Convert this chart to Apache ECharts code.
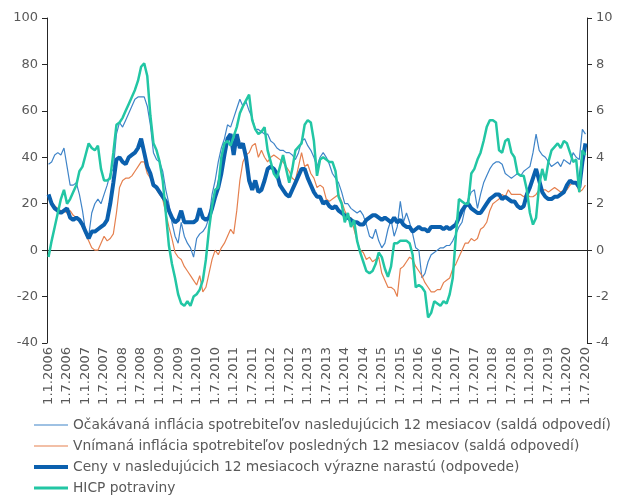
<!DOCTYPE html>
<html>
<head>
<meta charset="utf-8">
<script src="https://cdn.jsdelivr.net/npm/echarts@6.0.0/dist/echarts.min.js"></script>
<style>
html, body { margin: 0; padding: 0; background: #fff; }
#chart { width: 621px; height: 496px; }
</style>
</head>
<body>
<div id="chart"></div>
<script>
// mesiace 1.1.2006 - 1.7.2020
var months = [];
for (var y = 2006; y <= 2020; y++) {
	for (var m = 1; m <= 12; m++) {
		if (y === 2020 && m > 7) break;
		months.push('1.' + m + '.' + y);
	}
}

// Očakávaná inflácia (saldá)
var ocakavana = [
	37, 38, 41, 42, 41, 44, 36, 28, 28, 29, 24, 17,
	8, 6, 16, 20, 22, 20, 24, 28, 33, 35, 50, 55,
	53, 56, 59, 62, 65, 66, 66, 66, 62, 54, 42, 39,
	38, 34, 26, 20, 12, 6, 3, 12, 6, 3, 1, -3,
	5, 7, 8, 10, 14, 24, 30, 38, 44, 48, 54, 53,
	57, 61, 65, 62, 64, 60, 57, 52, 52, 51, 50, 50,
	47, 46, 44, 43, 43, 42, 42, 41, 39, 42, 47, 48,
	45, 43, 40, 36, 40, 42, 40, 37, 33, 31, 29, 25,
	20, 20, 18, 17, 16, 17, 15, 11, 6, 5, 9, 4,
	1, 3, 9, 13, 6, 10, 21, 12, 16, 12, 7, 1,
	0, -12, -10, -5, -2, -1, 0, 1, 1, 2, 2, 4,
	7, 10, 12, 18, 22, 25, 26, 18, 24, 29, 32, 35,
	37, 38, 38, 37, 33, 32, 31, 32, 33, 32, 34, 35,
	36, 42, 50, 43, 41, 40, 38, 36, 37, 38, 36, 39,
	38, 37, 42, 40, 39, 52, 50
];

// Vnímaná inflácia (saldá)
var vnimana = [
	22, 21, 19, 18, 17, 17, 16, 17, 15, 14, 13, 10,
	7, 4, 1, 0, 0, 3, 6, 4, 5, 7, 16, 27,
	30, 31, 31, 32, 34, 36, 38, 38, 33, 31, 28, 26,
	24, 22, 16, 10, 5, -1, -3, -4, -7, -9, -11, -13,
	-15, -11, -18, -16, -10, -4, 0, -2, 1, 3, 6, 9,
	7, 17, 30, 38, 41, 42, 45, 46, 40, 43, 40, 38,
	40, 41, 40, 39, 38, 36, 34, 31, 30, 36, 42, 36,
	37, 33, 31, 27, 28, 27, 22, 21, 22, 23, 24, 21,
	17, 14, 14, 9, 4, 0, -1, -4, -3, -5, -4, -3,
	-10, -13, -16, -16, -17, -20, -8, -7, -5, -3, -4, -7,
	-9, -11, -14, -16, -18, -18, -17, -17, -14, -13, -12, -8,
	-6, -3, 0, 3, 3, 5, 4, 5, 9, 10, 12, 17,
	20, 21, 22, 24, 23, 26, 24, 24, 24, 24, 23, 24,
	23, 23, 24, 26, 26, 26, 25, 26, 27, 26, 25, 26,
	26, 28, 29, 29, 25, 26, 28
];

// Ceny výrazne narastú (odpovede)
var ceny = [
	24, 20, 18, 17, 16, 17, 18, 14, 13, 14, 13, 11,
	8, 5, 8, 8, 9, 10, 11, 13, 20, 29, 39, 40,
	38, 37, 40, 41, 42, 44, 48, 42, 36, 33, 28, 27,
	25, 23, 21, 17, 14, 12, 13, 17, 12, 12, 12, 12,
	13, 18, 14, 13, 14, 18, 23, 27, 33, 41, 48, 50,
	41, 50, 44, 46, 40, 30, 26, 30, 25, 26, 30, 35,
	36, 35, 33, 28, 26, 24, 23, 26, 29, 32, 35, 35,
	31, 28, 25, 23, 23, 20, 21, 19, 18, 19, 17, 16,
	15, 14, 13, 12, 12, 11, 11, 13, 14, 15, 15, 14,
	13, 14, 13, 12, 14, 12, 13, 11, 10, 10, 8, 9,
	10, 9, 9, 8, 10, 10, 10, 10, 9, 10, 9, 10,
	11, 14, 17, 19, 20, 18, 17, 16, 16, 18, 20, 22,
	23, 24, 24, 22, 23, 22, 21, 21, 19, 18, 19, 24,
	27, 31, 35, 30, 25, 23, 22, 22, 23, 23, 24, 25,
	28, 30, 29, 29, 27, 38, 46
];

// HICP potraviny (pravá os, %)
var hicp = [
	-0.3, 0.4, 1.0, 1.6, 2.2, 2.6, 2.0, 2.2, 2.5, 2.8, 3.4, 3.6,
	4.1, 4.6, 4.4, 4.3, 4.5, 3.5, 3.0, 3.0, 3.1, 4.2, 5.4, 5.5,
	5.7, 6.0, 6.3, 6.6, 6.9, 7.3, 7.9, 8.05, 7.5, 5.8, 4.6, 4.3,
	3.8, 3.0, 1.6, 0.2, -0.6, -1.2, -1.9, -2.3, -2.4, -2.2, -2.4, -2.0,
	-1.9, -1.7, -1.3, -0.4, 0.9, 1.9, 2.6, 2.7, 4.0, 4.6, 4.7, 4.5,
	4.9, 5.3, 5.9, 6.2, 6.45, 6.7, 5.6, 5.2, 5.0, 5.1, 5.3, 4.3,
	3.8, 3.3, 3.1, 3.6, 4.1, 3.5, 2.9, 3.5, 4.3, 4.45, 4.6, 5.4,
	5.6, 5.5, 4.7, 3.2, 3.9, 4.0, 3.9, 3.8, 3.8, 3.4, 2.3, 2.0,
	1.2, 1.6, 1.0, 1.3, 0.4, -0.1, -0.5, -0.9, -1.0, -0.9, -0.6, -0.1,
	-0.3, -0.8, -1.15, -0.7, 0.3, 0.3, 0.4, 0.4, 0.4, 0.3, -0.2, -1.6,
	-1.5, -1.6, -1.8, -2.9, -2.7, -2.2, -2.3, -2.4, -2.2, -2.3, -1.9, -1.2,
	0.6, 2.2, 2.1, 2.0, 2.0, 3.3, 3.5, 3.9, 4.2, 4.7, 5.3, 5.6,
	5.6, 5.5, 4.3, 4.2, 4.7, 4.8, 4.2, 4.0, 3.3, 3.2, 3.2, 2.6,
	1.6, 1.1, 1.4, 2.8, 3.5, 3.0, 3.8, 4.3, 4.45, 4.6, 4.4, 4.7,
	4.6, 4.2, 3.8, 3.9, 2.5, 4.3, 4.1
];

var names = [
	'Očakávaná inflácia spotrebiteľov nasledujúcich 12 mesiacov (saldá odpovedí)',
	'Vnímaná inflácia spotrebiteľov posledných 12 mesiacov (saldá odpovedí)',
	'Ceny v nasledujúcich 12 mesiacoch výrazne narastú (odpovede)',
	'HICP potraviny'
];
var colors = [ '#3f84c8', '#e5804f', '#0b60ae', '#22c6a4' ];
var widths = [ 1.2, 1.2, 4, 2.5 ];

var txt = '#595959';
var axisCol = '#262626';
var font = 'DejaVu Sans';

// jedna legenda na riadok, aby mala každá čiara vlastnú hrúbku
var legends = [];
for (var k = 0; k < names.length; k++) {
	legends.push({
		orient: 'vertical',
		left: 29,
		top: 413 + k * 21,
		icon: 'rect',
		itemWidth: 34,
		itemHeight: Math.max(1, Math.round(widths[k])),
		textStyle: { fontFamily: font, fontSize: 13.8, color: txt },
		data: [ names[k] ]
	});
}

var myChart = echarts.init(document.getElementById('chart'));
var option = {
	animation: false,
	textStyle: { fontFamily: font },
	grid: { left: 47, right: 34, top: 18, bottom: 153 },
	legend: legends,
	xAxis: [ {
		type: 'category',
		data: months,
		boundaryGap: true,
		axisLine: { onZero: true, lineStyle: { color: axisCol, width: 1 } },
		axisTick: { interval: 5, length: 4, lineStyle: { color: axisCol } },
		axisLabel: { show: false }
	}, {
		type: 'category',
		data: months,
		position: 'bottom',
		boundaryGap: true,
		axisLine: { show: false, onZero: false },
		axisTick: { show: false },
		axisLabel: { interval: 5, rotate: 90, fontSize: 13, color: txt, margin: 4, fontFamily: font }
	} ],
	yAxis: [ {
		type: 'value',
		position: 'left',
		min: -40, max: 100, interval: 20,
		splitLine: { show: false },
		axisLine: { show: true, lineStyle: { color: axisCol } },
		axisTick: { show: true, length: 5, lineStyle: { color: axisCol } },
		axisLabel: { fontSize: 13, color: txt, margin: 9, fontFamily: font }
	}, {
		type: 'value',
		position: 'right',
		min: -4, max: 10, interval: 2,
		splitLine: { show: false },
		axisLine: { show: true, lineStyle: { color: axisCol } },
		axisTick: { show: true, length: 5, lineStyle: { color: axisCol } },
		axisLabel: { fontSize: 13, color: txt, margin: 9, fontFamily: font }
	} ],
	series: [ {
		name: names[0],
		type: 'line',
		data: ocakavana,
		symbol: 'none',
		lineStyle: { width: widths[0], color: colors[0] },
		itemStyle: { color: colors[0] }
	}, {
		name: names[1],
		type: 'line',
		data: vnimana,
		symbol: 'none',
		lineStyle: { width: widths[1], color: colors[1] },
		itemStyle: { color: colors[1] }
	}, {
		name: names[2],
		type: 'line',
		data: ceny,
		symbol: 'none',
		lineStyle: { width: widths[2], color: colors[2] },
		itemStyle: { color: colors[2] }
	}, {
		name: names[3],
		type: 'line',
		data: hicp,
		yAxisIndex: 1,
		symbol: 'none',
		lineStyle: { width: widths[3], color: colors[3] },
		itemStyle: { color: colors[3] }
	} ]
};
myChart.setOption(option);
</script>
</body>
</html>
